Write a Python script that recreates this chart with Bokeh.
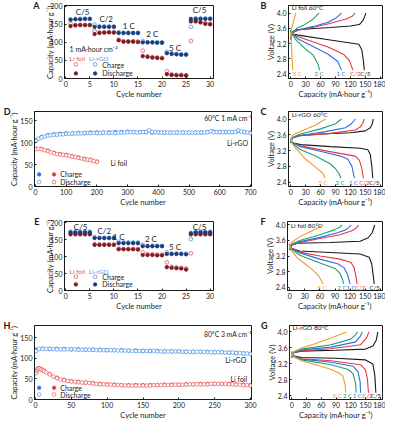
from bokeh.plotting import figure
from bokeh.layouts import column, row
from bokeh.models import Range1d, FixedTicker, LinearAxis, PrintfTickFormatter
from bokeh.core.properties import value
from bokeh.embed import file_html
from bokeh.resources import INLINE

# ---------------- data ----------------
RATES = ["C/5", "C/2", "1 C", "2 C", "5 C"]

# rate capability (A: 60 C, E: 80 C)
A_cycles = list(range(1, 31))
A_foil_chg = [152, 148, 148, 148, 148, 131, 127, 128, 128, 128, 107, 103, 103, 103, 102,
              77, 61, 59, 58, 57, 20, 11, 10, 10, 9, 104, 160, 157, 153, 151]
A_foil_dis = [145, 147, 148, 148, 148, 123, 126, 127, 128, 127, 106, 102, 102, 102, 101,
              62, 60, 58, 57, 56, 12, 10, 9, 9, 8, 158, 158, 155, 151, 150]
A_rgo_chg = [163, 165, 165, 165, 165, 149, 144, 144, 144, 144, 128, 126, 126, 126, 126,
             104, 100, 100, 100, 100, 74, 70, 68, 67, 67, 143, 166, 166, 166, 166]
A_rgo_dis = [163, 164, 164, 165, 165, 143, 143, 143, 143, 143, 126, 126, 126, 126, 126,
             100, 100, 100, 99, 99, 70, 68, 67, 66, 66, 165, 165, 165, 165, 165]

E_foil_chg = [168, 168, 168, 168, 168, 137, 136, 136, 136, 136, 124, 123, 123, 123, 123,
              113, 107, 107, 106, 106, 83, 70, 68, 67, 65, 110, 168, 168, 168, 168]
E_foil_dis = [166, 166, 166, 166, 166, 135, 135, 135, 135, 135, 122, 122, 122, 122, 121,
              105, 105, 105, 104, 104, 69, 67, 66, 65, 62, 166, 166, 166, 166, 166]
E_rgo_chg = [174, 174, 174, 174, 174, 158, 156, 156, 156, 156, 144, 142, 142, 142, 142,
             135, 132, 132, 132, 132, 113, 109, 109, 109, 109, 152, 174, 174, 174, 174]
E_rgo_dis = [172, 172, 172, 172, 172, 155, 155, 155, 155, 155, 140, 140, 140, 140, 140,
             131, 131, 131, 131, 131, 108, 108, 108, 108, 107, 170, 172, 172, 172, 172]

# long cycling D (60 C, 1 mA cm-2)
D_rgo_cycles = [1] + list(range(10, 701, 10))
D_rgo_dis = [104, 109, 112, 114, 116, 117, 118, 118, 119, 119,
             120, 120, 121, 121, 121, 121, 122, 122, 122, 122,
             122, 122, 123, 123, 122, 123, 122, 123, 123, 123,
             124, 124, 124, 123, 124, 124, 124, 128, 124, 124,
             123, 123, 123, 123, 123, 123, 123, 123, 123, 123,
             123, 123, 123, 123, 123, 123, 124, 126, 124, 124,
             124, 124, 124, 124, 124, 124, 128, 125, 124, 123,
             122]
D_rgo_chg_cycles = [1] + list(range(20, 701, 20))
D_rgo_chg = [105, 113, 117, 119, 120, 121, 121, 122, 122, 123,
             123, 123, 123, 124, 124, 125, 124, 124, 124, 123,
             123, 123, 123, 123, 123, 123, 123, 123, 124, 125,
             124, 124, 124, 127, 124, 123]
D_foil_cycles = [1] + list(range(10, 201, 10))
D_foil_dis = [85, 86, 85, 83, 81, 78, 76, 74, 73, 72, 71, 70, 68, 67, 65, 64, 62, 61, 60, 58, 56]
D_foil_chg_cycles = [1] + list(range(20, 201, 20))
D_foil_chg = [86, 86, 82, 77, 74, 72, 69, 66, 63, 61, 57]

# long cycling H (80 C, 3 mA cm-2)
H_rgo_cycles = [1] + list(range(5, 301, 5))
H_rgo_dis = [118,
             123, 123, 123, 123, 123, 122, 122, 122, 122, 122,
             122, 121, 121, 121, 121, 121, 120, 120, 120, 120,
             120, 120, 119, 119, 119, 119, 118, 118, 118, 118,
             118, 118, 118, 117, 117, 117, 117, 117, 117, 117,
             116, 116, 116, 116, 116, 116, 116, 115, 115, 115,
             115, 115, 114, 114, 114, 113, 113, 112, 112, 111]
H_rgo_chg_cycles = [1] + list(range(10, 301, 10))
H_rgo_chg = [121, 124, 123, 123, 123, 122, 122, 121, 121, 121, 120,
             120, 120, 119, 119, 118, 118, 118, 117, 117, 117,
             116, 116, 116, 116, 115, 115, 114, 113, 112, 111]
H_foil_cycles = [1, 2, 3, 4, 6, 8, 10, 12, 15] + list(range(20, 301, 5))
H_foil_dis = [64, 70, 73, 75, 75, 73, 71, 69, 66,
              61, 56, 52, 49, 47, 45, 44, 43, 42, 41,
              41, 40, 39, 38, 37, 37, 36, 36, 35, 35,
              35, 34, 34, 34, 34, 34, 34, 34, 34, 35,
              35, 35, 35, 35, 35, 36, 36, 36, 36, 37,
              37, 37, 37, 37, 37, 38, 38, 38, 38, 38,
              37, 37, 36, 36, 35, 35, 34]
H_foil_chg_cycles = [1, 3, 5, 8, 12] + list(range(20, 301, 10))
H_foil_chg = [68, 75, 76, 74, 70,
              62, 53, 48, 45, 43, 41, 40, 38, 37, 36, 35, 35, 35, 35, 35,
              35, 36, 36, 36, 37, 37, 38, 38, 38, 38, 38, 37, 36, 35]

# voltage profiles, order of RATES
B_chg_q = [[0, 3, 10, 40, 80, 120, 138, 145, 149, 151], [0, 3, 15, 50, 76, 113, 125, 129],
           [0, 3, 15, 46, 75, 92, 102], [0, 3, 12, 27, 45, 57], [0, 2, 5, 8, 10]]
B_chg_v = [[3.30, 3.50, 3.56, 3.59, 3.62, 3.66, 3.70, 3.80, 3.92, 4.00],
           [3.30, 3.48, 3.55, 3.64, 3.72, 3.85, 3.93, 4.00],
           [3.30, 3.48, 3.56, 3.65, 3.76, 3.88, 4.00],
           [3.30, 3.48, 3.60, 3.69, 3.84, 4.00], [3.40, 3.60, 3.75, 3.90, 4.00]]
B_dis_q = [[0, 3, 15, 76, 137, 143, 146, 148], [0, 3, 15, 50, 76, 107, 118, 125],
           [0, 3, 15, 45, 76, 95, 102], [0, 3, 10, 30, 45, 55, 58], [0, 1, 2, 3, 4]]
B_dis_v = [[3.55, 3.45, 3.42, 3.30, 3.18, 3.03, 2.75, 2.50],
           [3.55, 3.45, 3.38, 3.22, 3.10, 2.91, 2.75, 2.50],
           [3.55, 3.45, 3.32, 3.12, 2.91, 2.72, 2.50],
           [3.55, 3.45, 3.30, 3.05, 2.90, 2.65, 2.50], [3.50, 3.25, 3.00, 2.75, 2.50]]

C_chg_q = [[0, 3, 15, 60, 120, 150, 160, 164, 166], [0, 3, 20, 76, 130, 140, 145, 148],
           [0, 3, 20, 70, 110, 122, 130], [0, 3, 20, 60, 90, 102], [0, 3, 15, 30, 50, 70]]
C_chg_v = [[3.40, 3.52, 3.58, 3.62, 3.65, 3.70, 3.78, 3.88, 4.00],
           [3.40, 3.52, 3.58, 3.63, 3.72, 3.80, 3.90, 4.00],
           [3.40, 3.52, 3.58, 3.68, 3.78, 3.88, 4.00],
           [3.40, 3.53, 3.62, 3.75, 3.88, 4.00], [3.45, 3.58, 3.66, 3.74, 3.85, 4.00]]
C_dis_q = [[0, 3, 20, 80, 140, 155, 160, 163, 165], [0, 3, 20, 76, 130, 138, 143, 146],
           [0, 3, 20, 70, 100, 115, 123, 128], [0, 3, 20, 50, 80, 90, 97, 101],
           [0, 3, 10, 30, 50, 65, 69]]
C_dis_v = [[3.50, 3.40, 3.35, 3.30, 3.26, 3.22, 3.10, 2.80, 2.50],
           [3.50, 3.40, 3.32, 3.18, 3.06, 2.95, 2.75, 2.50],
           [3.50, 3.40, 3.30, 3.15, 3.06, 2.98, 2.80, 2.50],
           [3.50, 3.38, 3.22, 3.06, 2.86, 2.74, 2.62, 2.50],
           [3.50, 3.38, 3.26, 2.98, 2.78, 2.62, 2.50]]

F_chg_q = [[0, 3, 15, 80, 140, 156, 164, 169], [0, 3, 20, 60, 100, 125, 133, 137],
           [0, 3, 20, 60, 95, 112, 118, 122], [0, 3, 20, 60, 90, 100, 104], [0, 3, 20, 45, 67]]
F_chg_v = [[3.35, 3.48, 3.53, 3.55, 3.58, 3.67, 3.80, 4.00],
           [3.35, 3.48, 3.55, 3.65, 3.75, 3.86, 3.93, 4.00],
           [3.35, 3.48, 3.57, 3.68, 3.80, 3.88, 3.94, 4.00],
           [3.35, 3.50, 3.60, 3.75, 3.88, 3.95, 4.00], [3.45, 3.55, 3.70, 3.85, 4.00]]
F_dis_q = [[0, 3, 20, 80, 140, 158, 163, 166, 168], [0, 3, 20, 60, 100, 122, 128, 132, 134],
           [0, 3, 20, 60, 95, 108, 115, 120], [0, 3, 20, 60, 90, 100, 105, 107],
           [0, 3, 15, 30, 45, 58, 66]]
F_dis_v = [[3.50, 3.40, 3.33, 3.29, 3.25, 3.17, 3.00, 2.70, 2.48],
           [3.50, 3.40, 3.30, 3.20, 3.12, 3.03, 2.90, 2.65, 2.48],
           [3.50, 3.40, 3.28, 3.12, 3.00, 2.90, 2.72, 2.48],
           [3.50, 3.38, 3.22, 3.02, 2.88, 2.75, 2.60, 2.48],
           [3.45, 3.35, 3.15, 3.00, 2.85, 2.68, 2.48]]

G_chg_q = [[0, 3, 20, 90, 150, 165, 172, 175], [0, 3, 20, 80, 140, 152, 157],
           [0, 3, 20, 80, 130, 140, 143], [0, 3, 20, 80, 120, 130, 134], [0, 3, 20, 46, 80, 112]]
G_chg_v = [[3.35, 3.48, 3.52, 3.54, 3.57, 3.65, 3.80, 4.00],
           [3.40, 3.48, 3.53, 3.58, 3.68, 3.85, 4.00],
           [3.40, 3.48, 3.55, 3.62, 3.75, 3.90, 4.00],
           [3.40, 3.50, 3.57, 3.68, 3.82, 3.93, 4.00], [3.40, 3.50, 3.60, 3.70, 3.85, 4.00]]
G_dis_q = [[0, 3, 20, 90, 150, 165, 169, 171], [0, 3, 20, 80, 140, 150, 154, 156],
           [0, 3, 20, 80, 125, 135, 139, 140], [0, 3, 20, 80, 115, 125, 130, 131],
           [0, 3, 20, 76, 95, 104, 108, 110]]
G_dis_v = [[3.50, 3.40, 3.36, 3.34, 3.30, 3.20, 2.90, 2.48],
           [3.50, 3.40, 3.33, 3.28, 3.18, 3.05, 2.80, 2.48],
           [3.50, 3.40, 3.32, 3.24, 3.14, 3.00, 2.75, 2.48],
           [3.50, 3.40, 3.30, 3.18, 3.06, 2.95, 2.70, 2.48],
           [3.50, 3.38, 3.28, 3.08, 2.98, 2.90, 2.70, 2.48]]

# ---------------- styling / layout ----------------
FONT = "Lato"
INK = "#1a1a1a"
RATE_COLORS = ["#1a1a1a", "#e5383f", "#2b6fe3", "#20a169", "#f59a2c"]
MAROON, NAVY = "#7d1c22", "#1d3c78"
RED_OPEN, BLUE_OPEN = "#e8545a", "#4d94e8"
RED, BLUE = "#e23a40", "#2f72dc"
TICK_FS, AXLAB_FS = "7px", "7.5px"
CAP_LABEL = "Capacity (mA\u00b7hour g\u207b\u00b9)"
W_L, W_R = 257, 128
ROW_H = [101, 108, 104, 109]
GEOM = {"A": (64, 44, 5, 19), "B": (26, 3, 5, 20),
        "D": (27, 6, 9, 21), "C": (26, 3, 10, 21),
        "E": (64, 44, 7, 17), "F": (26, 3, 12, 18),
        "H": (27, 6, 9, 20), "G": (26, 3, 12, 20)}
MS = 3.7


def base(w, h, geom, xr, yr, xticks, yticks, xlabel, ylabel, yfmt=None, ylab_off=1):
    l, r, t, b = geom
    p = figure(width=w, height=h, x_range=Range1d(*xr), y_range=Range1d(*yr),
               output_backend="svg", toolbar_location=None, title=None,
               min_border_left=l, min_border_right=r, min_border_top=t, min_border_bottom=b)
    p.xgrid.visible = False
    p.ygrid.visible = False
    p.outline_line_color = INK
    p.outline_line_width = 1
    p.outline_line_alpha = 1
    for ax, ticks, lab in ((p.xaxis[0], xticks, xlabel), (p.yaxis[0], yticks, ylabel)):
        ax.ticker = FixedTicker(ticks=ticks)
        ax.axis_label = lab
        ax.axis_label_text_font = FONT
        ax.axis_label_text_font_size = AXLAB_FS
        ax.axis_label_text_font_style = "normal"
        ax.axis_label_text_color = INK
        ax.major_label_text_font = FONT
        ax.major_label_text_font_size = TICK_FS
        ax.major_label_text_color = INK
        ax.major_tick_in = 2
        ax.major_tick_out = 0
        ax.minor_tick_in = 0
        ax.minor_tick_out = 0
        ax.axis_line_color = INK
        ax.major_tick_line_color = INK
        ax.major_label_standoff = 2
        ax.axis_label_standoff = 0
    p.yaxis[0].axis_label_standoff = ylab_off
    if yfmt:
        p.yaxis[0].formatter = PrintfTickFormatter(format=yfmt)
    return p


def letter(p, txt, standoff=0):
    # panel letter: an extra tick-less axis on the left whose label is the letter
    ax = LinearAxis(ticker=FixedTicker(ticks=[]), axis_label=txt)
    ax.axis_line_color = None
    ax.major_tick_line_color = None
    ax.minor_tick_line_color = None
    ax.major_label_text_font_size = "1px"
    ax.axis_label_text_font = FONT
    ax.axis_label_text_font_style = "bold"
    ax.axis_label_text_font_size = "9px"
    ax.axis_label_text_color = INK
    ax.axis_label_standoff = standoff
    try:
        ax.axis_label_orientation = "horizontal"
    except Exception:
        pass
    try:
        ax.axis_label_align = "end"
    except Exception:
        pass
    p.add_layout(ax, "left")


def texts(p, xs, ys, labels, color, size, align="left"):
    p.text(x=xs, y=ys, text=labels, text_font=value(FONT), text_font_size=value(size),
           text_color=color, text_align=align, text_baseline="middle")


def rate_panel(name, h, yr, foil_chg, foil_dis, rgo_chg, rgo_dis, lab_x, lab_y, leg, note=None):
    g = GEOM[name]
    p = base(W_L, h, g, (-0.26, 30.7), yr, [0, 5, 10, 15, 20, 25, 30], [0, 50, 100, 150, 200],
             "Cycle number", CAP_LABEL, ylab_off=-8)
    p.scatter(A_cycles, foil_chg, marker="circle", size=MS, fill_color=None, line_color=RED_OPEN, line_width=0.8)
    p.scatter(A_cycles, rgo_chg, marker="circle", size=MS, fill_color=None, line_color=BLUE_OPEN, line_width=0.8)
    p.scatter(A_cycles, foil_dis, marker="circle", size=MS, fill_color=MAROON, line_color=MAROON, line_width=0.5)
    p.scatter(A_cycles, rgo_dis, marker="circle", size=MS, fill_color=NAVY, line_color=NAVY, line_width=0.5)
    texts(p, lab_x, lab_y, RATES[:1] + RATES[1:] + RATES[:1], INK, "8px", "center")
    # legend block
    lx0, lx1, lxt, ly_head, ly1, ly2 = leg
    if note:
        texts(p, [lx0 - 1.3], [note[1]], [note[0]], INK, "7px")
    texts(p, [lx0 - 1.3], [ly_head], ["Li foil"], RED_OPEN, "6.5px")
    texts(p, [lx0 + 2.7], [ly_head], ["Li-rGO"], BLUE_OPEN, "6.5px")
    p.scatter([lx0], [ly1], marker="circle", size=MS, fill_color=None, line_color=RED_OPEN, line_width=0.8)
    p.scatter([lx1], [ly1], marker="circle", size=MS, fill_color=None, line_color=BLUE_OPEN, line_width=0.8)
    p.scatter([lx0], [ly2], marker="circle", size=MS, fill_color=MAROON, line_color=MAROON, line_width=0.5)
    p.scatter([lx1], [ly2], marker="circle", size=MS, fill_color=NAVY, line_color=NAVY, line_width=0.5)
    texts(p, [lxt, lxt], [ly1 - 2, ly2], ["Charge", "Discharge"], INK, "7px")
    return p


def profile_panel(name, h, yr, cq, cv, dq, dv, lab_x, title, title_y):
    g = GEOM[name]
    p = base(W_R, h, g, (-4.5, 184.5), yr, [0, 30, 60, 90, 120, 150, 180],
             [2.4, 2.8, 3.2, 3.6, 4.0], CAP_LABEL, "Voltage (V)", yfmt="%.1f", ylab_off=-2)
    for i in range(len(RATES)):
        p.line(cq[i], cv[i], line_color=RATE_COLORS[i], line_width=1.1)
        p.line(dq[i], dv[i], line_color=RATE_COLORS[i], line_width=1.1)
    for i in range(len(RATES)):
        texts(p, [lab_x[i]], [2.4], [RATES[i]], RATE_COLORS[i], "6px", "center")
    texts(p, [1.8], [title_y], [title], INK, "6.5px")
    return p


def cycle_panel(name, h, xr, yr, xticks, rc, rchg, rd, rdis, fc, fchg, fd, fdis, note, lab_rgo, lab_foil, leg):
    g = GEOM[name]
    p = base(W_L, h, g, xr, yr, xticks, [0, 50, 100, 150], "Cycle number", CAP_LABEL, ylab_off=-2)
    p.scatter(rc, rchg, marker="circle", size=MS, fill_color=BLUE, line_color=BLUE, line_width=0.5)
    p.scatter(fc, fchg, marker="circle", size=MS, fill_color=RED, line_color=RED, line_width=0.5)
    p.scatter(rd, rdis, marker="circle", size=MS, fill_color="white", line_color=BLUE_OPEN, line_width=0.7)
    p.scatter(fd, fdis, marker="circle", size=MS, fill_color="white", line_color=RED_OPEN, line_width=0.7)
    texts(p, [note[1]], [note[2]], [note[0]], INK, "6.8px")
    texts(p, [lab_rgo[0]], [lab_rgo[1]], ["Li-rGO"], INK, "7px")
    texts(p, [lab_foil[0]], [lab_foil[1]], ["Li foil"], INK, "7px")
    bx, rx, tx, y1, y2 = leg
    p.scatter([bx], [y1], marker="circle", size=MS, fill_color=BLUE, line_color=BLUE, line_width=0.5)
    p.scatter([rx], [y1], marker="circle", size=MS, fill_color=RED, line_color=RED, line_width=0.5)
    p.scatter([bx], [y2], marker="circle", size=MS, fill_color="white", line_color=BLUE_OPEN, line_width=0.7)
    p.scatter([rx], [y2], marker="circle", size=MS, fill_color="white", line_color=RED_OPEN, line_width=0.7)
    texts(p, [tx, tx], [y1, y2], ["Charge", "Discharge"], INK, "7px")
    return p


pA = rate_panel("A", ROW_H[0], (0, 202), A_foil_chg, A_foil_dis, A_rgo_chg, A_rgo_dis,
                [3.5, 8.4, 13.1, 18.0, 22.7, 27.8], [185, 164, 145, 122, 85, 189],
                (2.1, 6.1, 7.6, 56, 39, 14), note=("1 mA\u00b7hour cm\u207b\u00b2", 81))
letter(pA, "A", 4)

pB = profile_panel("B", ROW_H[0], (2.28, 4.2), B_chg_q, B_chg_v, B_dis_q, B_dis_v,
                   [150, 130, 101, 57, 13], "Li foil 60\u00b0C", 4.14)
letter(pB, "B", -3)

pD = cycle_panel("D", ROW_H[1], (-3, 703), (0, 171), [0, 100, 200, 300, 400, 500, 600, 700],
                 D_rgo_chg_cycles, D_rgo_chg, D_rgo_cycles, D_rgo_dis,
                 D_foil_chg_cycles, D_foil_chg, D_foil_cycles, D_foil_dis,
                 ("60\u00b0C 1 mA cm\u207b\u00b2", 549, 156), (623, 100), (244, 54),
                 (12, 60.5, 80.7, 27.6, 10))
letter(pD, "D", -3)

pC = profile_panel("C", ROW_H[1], (2.29, 4.19), C_chg_q, C_chg_v, C_dis_q, C_dis_v,
                   [168, 148, 126, 99, 65], "Li-rGO 60\u00b0C", 4.12)
letter(pC, "C", -3)

pE = rate_panel("E", ROW_H[2], (0, 204), E_foil_chg, E_foil_dis, E_rgo_chg, E_rgo_dis,
                [3.1, 8.0, 11.0, 17.7, 22.7, 27.8], [188, 175, 158, 153, 128, 188],
                (2.1, 6.1, 7.6, 57, 41, 18))
letter(pE, "E", 4)

pF = profile_panel("F", ROW_H[2], (2.31, 4.09), F_chg_q, F_chg_v, F_dis_q, F_dis_v,
                   [169, 140, 122, 104, 64], "Li foil 80\u00b0C", 3.99)
letter(pF, "F", -3)

pH = cycle_panel("H", ROW_H[3], (-1.3, 301.3), (0, 180), [0, 50, 100, 150, 200, 250, 300],
                 H_rgo_chg_cycles, H_rgo_chg, H_rgo_cycles, H_rgo_dis,
                 H_foil_chg_cycles, H_foil_chg, H_foil_cycles, H_foil_dis,
                 ("80\u00b0C 3 mA cm\u207b\u00b2", 235, 158.6), (264.6, 95.7), (272, 51),
                 (5.2, 26, 34.6, 28.6, 12.1))
letter(pH, "H", -3)

pG = profile_panel("G", ROW_H[3], (2.31, 4.16), G_chg_q, G_chg_v, G_dis_q, G_dis_v,
                   [171, 154, 133, 113.5, 92], "Li-rGO 80\u00b0C", 4.12)
letter(pG, "G", -3)

layout = column(row(pA, pB), row(pD, pC), row(pE, pF), row(pH, pG))

open("out.html", "w").write(file_html(layout, INLINE))
